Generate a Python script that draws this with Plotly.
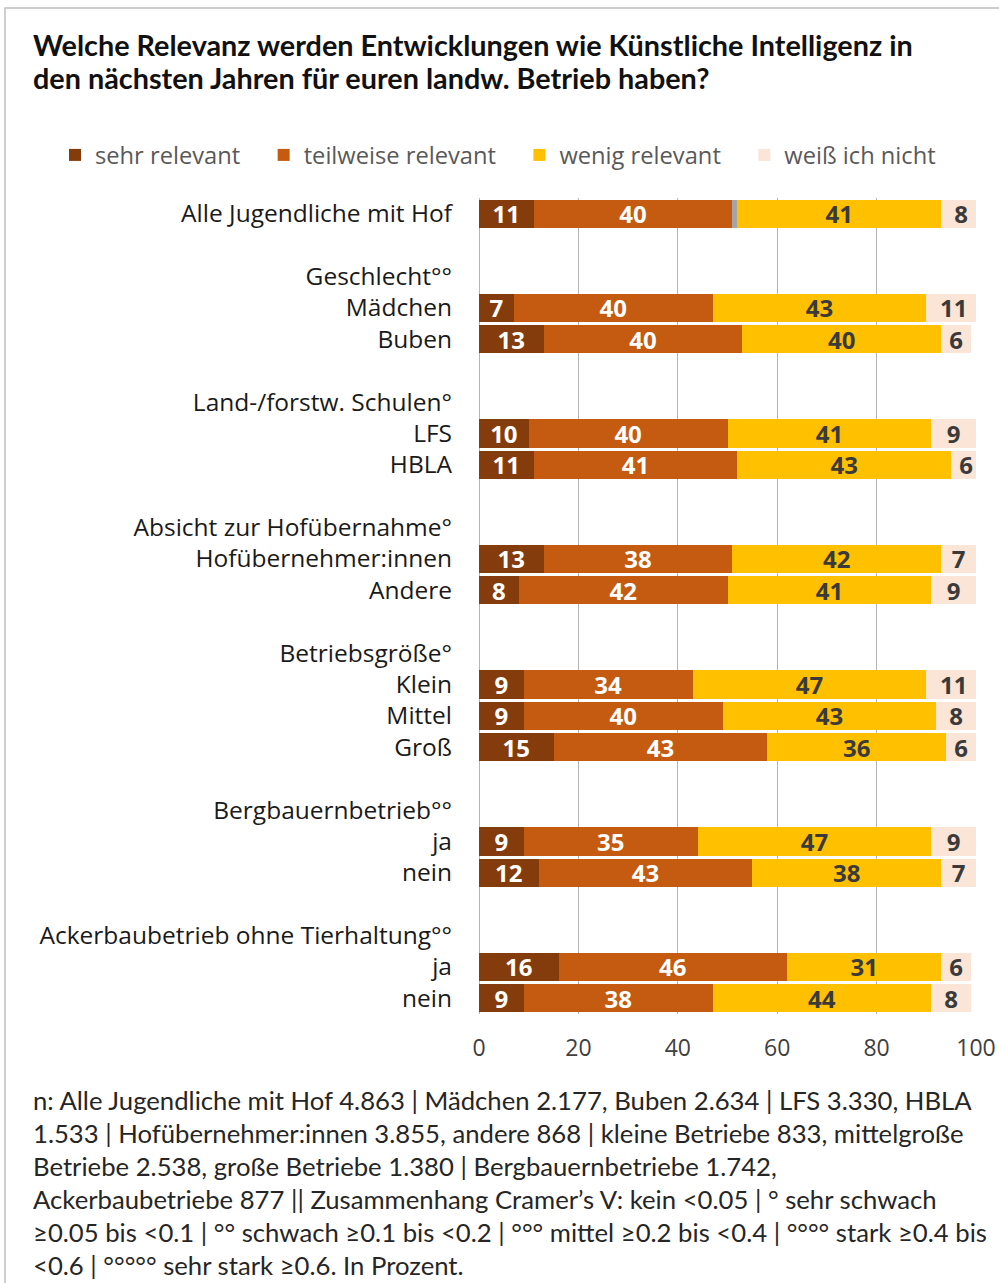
import plotly.graph_objects as go

# Row labels (header rows carry no bars)
labels = [
    "Alle Jugendliche mit Hof", "",
    "Geschlecht°°", "Mädchen", "Buben", "",
    "Land-/forstw. Schulen°", "LFS", "HBLA", "",
    "Absicht zur Hofübernahme°", "Hofübernehmer:innen", "Andere", "",
    "Betriebsgröße°", "Klein", "Mittel", "Groß", "",
    "Bergbauernbetrieb°°", "ja", "nein", "",
    "Ackerbaubetrieb ohne Tierhaltung°°", "ja", "nein",
]

sehr_relevant = [11, None, None, 7, 13, None, None, 10, 11, None, None, 13, 8, None,
                 None, 9, 9, 15, None, None, 9, 12, None, None, 16, 9]
teilweise_relevant = [40, None, None, 40, 40, None, None, 40, 41, None, None, 38, 42, None,
                      None, 34, 40, 43, None, None, 35, 43, None, None, 46, 38]
keine_angabe = [1, None, None, None, None, None, None, None, None, None, None, None, None, None,
                None, None, None, None, None, None, None, None, None, None, None, None]
wenig_relevant = [41, None, None, 43, 40, None, None, 41, 43, None, None, 42, 41, None,
                  None, 47, 43, 36, None, None, 47, 38, None, None, 31, 44]
weiss_nicht = [8, None, None, 11, 6, None, None, 9, 6, None, None, 7, 9, None,
               None, 11, 8, 6, None, None, 9, 7, None, None, 6, 8]

x_ticks = [0, 20, 40, 60, 80, 100]

title_lines = [
    "Welche Relevanz werden Entwicklungen wie Künstliche Intelligenz in",
    "den nächsten Jahren für euren landw. Betrieb haben?",
]
note_lines = [
    "n: Alle Jugendliche mit Hof 4.863 | Mädchen 2.177, Buben 2.634 | LFS 3.330, HBLA",
    "1.533 | Hofübernehmer:innen 3.855, andere 868 | kleine Betriebe 833, mittelgroße",
    "Betriebe 2.538, große Betriebe 1.380 | Bergbauernbetriebe 1.742,",
    "Ackerbaubetriebe 877 || Zusammenhang Cramer’s V: kein &lt;0.05 | ° sehr schwach",
    "≥0.05 bis &lt;0.1 | °° schwach ≥0.1 bis &lt;0.2 | °°° mittel ≥0.2 bis &lt;0.4 | °°°° stark ≥0.4 bis",
    "&lt;0.6 | °°°°° sehr stark ≥0.6. In Prozent.",
]

TEXT_FONT = "Lato"
LABEL_FONT = "Open Sans"
W, H = 999, 1283
ML, MR, MT, MB = 479, 23, 198, 269
PW, PH = W - ML - MR, H - MT - MB


def px(x):
    return (x - ML) / PW


def py(y):
    return (H - MB - y) / PH


rows = list(range(len(labels)))
PAD = "\u00a0" * 3  # extra room between legend entries

series = [
    ("sehr relevant", sehr_relevant, "#843C0C", "white", True),
    ("teilweise relevant", teilweise_relevant, "#C55A11", "white", True),
    ("keine Angabe", keine_angabe, "#A5A5A5", "white", False),
    ("wenig relevant", wenig_relevant, "#FFC000", "#3A3A3A", True),
    ("weiß ich nicht", weiss_nicht, "#FBE5D6", "#3A3A3A", True),
]

fig = go.Figure()
for name, vals, color, tcol, show in series:
    fig.add_trace(go.Bar(
        name=name + PAD if show else name,
        y=rows,
        x=vals,
        orientation="h",
        marker=dict(color=color, line=dict(width=0)),
        text=[("" if (v is None or not show) else str(v)) for v in vals],
        textposition="inside",
        insidetextanchor="middle",
        textangle=0,
        constraintext="none",
        textfont=dict(family=LABEL_FONT, size=24, color=tcol, weight="bold"),
        showlegend=show,
        hovertemplate="%{x}<extra>" + name + "</extra>",
    ))

annotations = []
for i, line in enumerate(title_lines):
    annotations.append(dict(
        text=f"<b>{line}</b>", xref="paper", yref="paper",
        x=px(31), y=py(45 + i * 33), xanchor="left", yanchor="middle",
        showarrow=False, font=dict(family=TEXT_FONT, size=28.8, color="#111111"),
    ))
for i, line in enumerate(note_lines):
    annotations.append(dict(
        text=line, xref="paper", yref="paper",
        x=px(31), y=py(1100 + i * 33), xanchor="left", yanchor="middle",
        showarrow=False, font=dict(family=TEXT_FONT, size=25.7, color="#262626"),
    ))

fig.update_layout(
    width=W, height=H,
    margin=dict(l=ML, r=MR, t=MT, b=MB, autoexpand=False),
    paper_bgcolor="white", plot_bgcolor="white",
    barmode="stack", bargap=0.1,
    showlegend=True,
    legend=dict(
        orientation="h", x=px(55), y=py(155), xanchor="left", yanchor="middle",
        traceorder="normal", font=dict(family=LABEL_FONT, size=23.7, color="#595959"),
        itemwidth=30,
    ),
    annotations=annotations,
    shapes=[dict(
        type="rect", xref="paper", yref="paper",
        x0=px(5), x1=px(1010), y0=py(1300), y1=py(8),
        line=dict(color="#BFBFBF", width=1.5), layer="below",
    )],
    font=dict(family=LABEL_FONT, color="#262626"),
)

fig.update_xaxes(
    range=[0, 100], tickvals=x_ticks, ticktext=[str(t) for t in x_ticks],
    showgrid=True, gridcolor="#B4B4B4", gridwidth=1,
    zeroline=True, zerolinecolor="#B4B4B4", zerolinewidth=1,
    showline=False, ticks="", ticklabelstandoff=18,
    tickfont=dict(family=LABEL_FONT, size=23, color="#404040"),
    fixedrange=True,
)
fig.update_yaxes(
    range=[len(labels) - 0.5, -0.5], tickvals=rows, ticktext=labels,
    showgrid=False, zeroline=False, showline=False, ticks="",
    ticklabelstandoff=26,
    tickfont=dict(family=LABEL_FONT, size=24.5, color="#1A1A1A"),
    fixedrange=True,
)

fig.write_html("out.html")
